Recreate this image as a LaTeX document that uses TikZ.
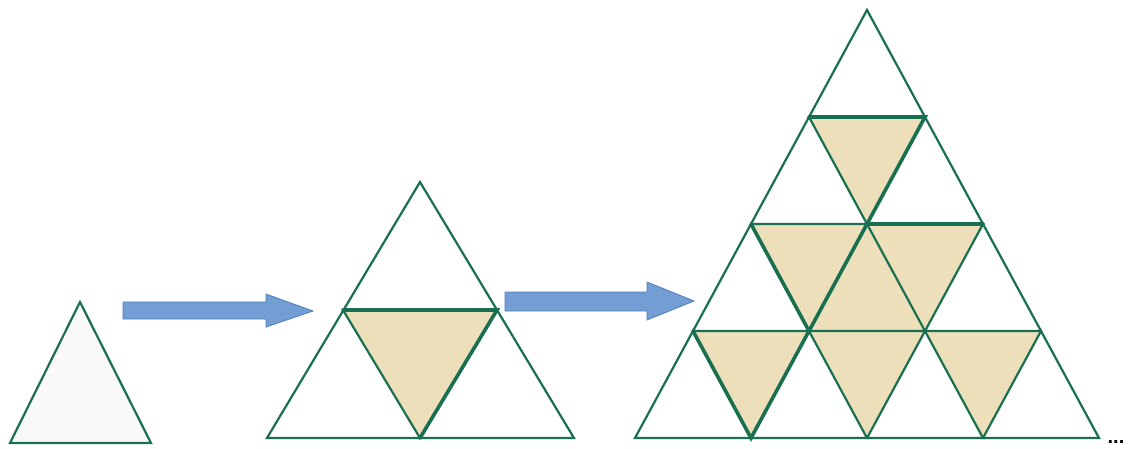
\documentclass[tikz,border=0pt]{standalone}
\usepackage{fontspec}
\setmainfont{Liberation Sans}
\definecolor{edgegreen}{RGB}{24,112,80}
\definecolor{tanfill}{RGB}{238,223,187}
\definecolor{arrowfill}{RGB}{114,158,211}
\definecolor{arrowline}{RGB}{80,124,190}
\definecolor{paleg}{RGB}{249,249,249}
\tikzset{
  edge/.style={draw=edgegreen,line width=2.2pt},
  thickedge/.style={draw=edgegreen,line width=3.6pt,line cap=round},
  tanpart/.style={fill=tanfill},
  bluearrow/.style={fill=arrowfill,draw=arrowline,line width=0.8pt},
}
\begin{document}
\begin{tikzpicture}[x=1pt,y=-1pt]
\useasboundingbox (0,0) rectangle (1128,448);
% small triangle
\coordinate (sa) at (80,302);
\coordinate (sl) at (10,443);
\coordinate (sr) at (151,443);
\draw[edge,fill=paleg] (sa) -- (sl) -- (sr) -- cycle;
% arrow 1
\draw[bluearrow] (123,302) -- (266,302) -- (266,294) -- (313,311) -- (266,327) -- (266,319) -- (123,319) -- cycle;
% middle triangle
\coordinate (ma) at (420,182);
\coordinate (ml) at (267,438);
\coordinate (mr) at (574,438);
\coordinate (mml) at (343,310);
\coordinate (mmr) at (497,310);
\coordinate (mmb) at (420,438);
\fill[tanpart] (mml) -- (mmr) -- (mmb) -- cycle;
\draw[edge] (ma) -- (ml) -- (mr) -- cycle;
\draw[edge] (mml) -- (mmr) -- (mmb) -- cycle;
\draw[thickedge] (mml) -- (mmr) -- (mmb);
% arrow 2
\draw[bluearrow] (505,292) -- (647,292) -- (647,282) -- (694,301) -- (647,320) -- (647,311) -- (505,311) -- cycle;
% big triangle
\foreach \k in {0,...,4}{
  \foreach \j in {0,...,\k}{
    \coordinate (P\k\j) at ({867-58*\k+116*\j},{10+107*\k});
  }
}
\fill[tanpart] (P20) -- (P22) -- (P42) -- cycle;
\fill[tanpart] (P10) -- (P11) -- (P21) -- cycle;
\fill[tanpart] (P30) -- (P31) -- (P41) -- cycle;
\fill[tanpart] (P32) -- (P33) -- (P43) -- cycle;
\foreach \k in {0,...,3}{
  \foreach \j in {0,...,\k}{
    \pgfmathtruncatemacro\kk{\k+1}
    \pgfmathtruncatemacro\jj{\j+1}
    \draw[edge] (P\k\j) -- (P\kk\j) -- (P\kk\jj) -- cycle;
  }
}
\draw[thickedge] (P10) -- (P11) -- (P21);
\draw[thickedge] (P20) -- (P31) -- (P21);
\draw[thickedge] (P21) -- (P22);
\draw[thickedge] (P30) -- (P41) -- (P31);
% ellipsis
\node[inner sep=0pt,anchor=base,font=\bfseries\fontsize{20}{20}\selectfont] (dots) at (1116,443) {...};
\end{tikzpicture}
\end{document}
